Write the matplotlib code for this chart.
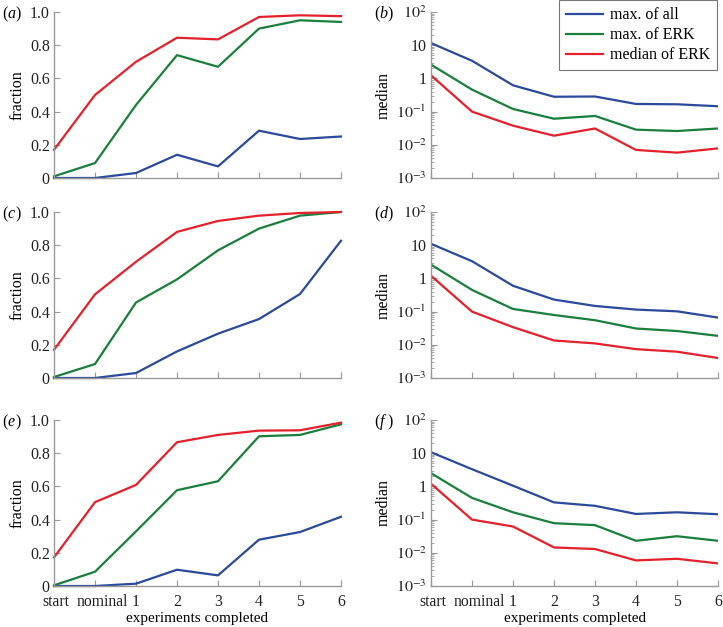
import matplotlib.pyplot as plt
import matplotlib.transforms as mtransforms
from matplotlib.ticker import FixedLocator, FixedFormatter, LogLocator, NullFormatter

# ---- data ----
x_labels = ["start", "nominal", "1", "2", "3", "4", "5", "6"]
series_names = ["max. of all", "max. of ERK", "median of ERK"]

# fraction panels (a), (c), (e): [max all, max ERK, median ERK]
frac_a_all = [0.0, 0.0, 0.03, 0.14, 0.07, 0.285, 0.235, 0.25]
frac_a_erk = [0.01, 0.09, 0.44, 0.74, 0.67, 0.90, 0.95, 0.94]
frac_a_med = [0.17, 0.50, 0.70, 0.845, 0.835, 0.97, 0.98, 0.975]

frac_c_all = [0.0, 0.0, 0.03, 0.16, 0.267, 0.355, 0.506, 0.827]
frac_c_erk = [0.006, 0.084, 0.455, 0.594, 0.769, 0.90, 0.978, 1.0]
frac_c_med = [0.17, 0.504, 0.70, 0.88, 0.946, 0.978, 0.994, 1.0]

frac_e_all = [0.0, 0.0, 0.014, 0.098, 0.064, 0.279, 0.325, 0.417]
frac_e_erk = [0.004, 0.086, 0.329, 0.577, 0.631, 0.902, 0.91, 0.974]
frac_e_med = [0.172, 0.505, 0.609, 0.866, 0.91, 0.936, 0.938, 0.984]

# median panels (b), (d), (f)
med_b_all = [11.6, 3.4, 0.62, 0.28, 0.285, 0.17, 0.166, 0.145]
med_b_erk = [2.6, 0.46, 0.12, 0.061, 0.074, 0.0286, 0.026, 0.031]
med_b_med = [1.24, 0.10, 0.0377, 0.0188, 0.031, 0.007, 0.0058, 0.0078]

med_d_all = [11.0, 3.3, 0.6, 0.23, 0.148, 0.115, 0.102, 0.066]
med_d_erk = [2.6, 0.45, 0.12, 0.079, 0.055, 0.031, 0.026, 0.0186]
med_d_med = [1.2, 0.10, 0.034, 0.0135, 0.011, 0.0074, 0.0062, 0.004]

med_f_all = [10.7, 3.3, 1.05, 0.33, 0.26, 0.148, 0.166, 0.145]
med_f_erk = [2.5, 0.45, 0.166, 0.078, 0.068, 0.023, 0.0316, 0.023]
med_f_med = [1.2, 0.10, 0.062, 0.0145, 0.013, 0.0059, 0.0066, 0.0048]

colors = ["#2b4a9b", "#1a7f3c", "#e3202b"]

plt.rcParams["font.family"] = ["Liberation Serif", "DejaVu Serif"]
plt.rcParams["mathtext.fontset"] = "stix"
FS = 11

W, H = 723, 627
fig = plt.figure(figsize=(W / 100, H / 100), dpi=100)


def make_ax(x0, x1, y_top, y_bot):
    return fig.add_axes([x0 / W, 1 - y_bot / H, (x1 - x0) / W, (y_bot - y_top) / H])


rows = [(12, 178), (212, 378), (420, 586)]
left_x = (54, 341)
right_x = (431, 718)

frac_sets = [(frac_a_all, frac_a_erk, frac_a_med),
             (frac_c_all, frac_c_erk, frac_c_med),
             (frac_e_all, frac_e_erk, frac_e_med)]
med_sets = [(med_b_all, med_b_erk, med_b_med),
            (med_d_all, med_d_erk, med_d_med),
            (med_f_all, med_f_erk, med_f_med)]
left_tags = ["a", "c", "e"]
right_tags = ["b", "d", "f"]

xs = list(range(len(x_labels)))
spine_col = "#999999"


def style(ax, bottom):
    for s in ["top", "right"]:
        ax.spines[s].set_visible(False)
    for s in ["left", "bottom"]:
        ax.spines[s].set_color(spine_col)
        ax.spines[s].set_linewidth(1.0)
    ax.set_xlim(0, len(x_labels) - 1)
    ax.set_xticks(xs)
    ax.tick_params(axis="both", which="both", direction="in", colors=spine_col,
                   labelcolor="#222222")
    ax.tick_params(axis="y", labelsize=FS + 0.5, pad=3)
    ax.tick_params(axis="x", labelsize=FS + 0.3, pad=6)
    ax.tick_params(axis="both", which="major", length=4, width=0.8)
    ax.tick_params(axis="y", which="minor", length=2, width=0.6)
    if bottom:
        ax.set_xticklabels(x_labels)
        ax.set_xlabel("experiments completed", fontsize=FS, labelpad=1.5)
        # nudge "start" / "nominal" apart like the original
        shifts = {0: 2, 1: 7}
        for k, tk in enumerate(ax.xaxis.get_major_ticks()):
            if k in shifts:
                lab = tk.label1
                lab.set_transform(lab.get_transform() + mtransforms.ScaledTranslation(
                    shifts[k] / 100, 0, fig.dpi_scale_trans))
    else:
        ax.set_xticklabels([])


def tag(x, y, letter):
    fig.text(x / W, 1 - y / H, "(", fontsize=FS + 0.5, va="center")
    fig.text((x + 5.5) / W, 1 - y / H, letter, fontsize=FS + 0.5, va="center", style="italic")
    fig.text((x + 13) / W, 1 - y / H, ")", fontsize=FS + 0.5, va="center")


for i, (y0, y1) in enumerate(rows):
    bottom = i == 2
    # fraction panel
    ax = make_ax(left_x[0], left_x[1], y0, y1)
    for vals, c in zip(frac_sets[i], colors):
        ax.plot(xs, vals, color=c, lw=1.6, clip_on=False)
    ax.set_ylim(0, 1.0)
    ax.set_yticks([0, 0.2, 0.4, 0.6, 0.8, 1.0])
    ax.set_yticklabels(["0", "0.2", "0.4", "0.6", "0.8", "1.0"])
    ax.set_ylabel("fraction", fontsize=FS + 0.5, labelpad=3)
    style(ax, bottom)
    tag(2, y0 + 2, left_tags[i])

    # median panel
    ax2 = make_ax(right_x[0], right_x[1], y0, y1)
    lines = []
    for vals, c, nm in zip(med_sets[i], colors, series_names):
        ln, = ax2.plot(xs, vals, color=c, lw=1.6, label=nm)
        lines.append(ln)
    ax2.set_yscale("log")
    ax2.set_ylim(1e-3, 1e2)
    ax2.yaxis.set_major_locator(FixedLocator([1e-3, 1e-2, 1e-1, 1, 10, 100]))
    ax2.yaxis.set_major_formatter(FixedFormatter(
        [r"$10^{-3}$", r"$10^{-2}$", r"$10^{-1}$", "1", "10", r"$10^{2}$"]))
    ax2.yaxis.set_minor_locator(LogLocator(base=10, subs=range(2, 10)))
    ax2.yaxis.set_minor_formatter(NullFormatter())
    ax2.set_ylabel("median", fontsize=FS + 0.5, labelpad=3)
    style(ax2, bottom)
    tag(374, y0 + 2, right_tags[i])

    if i == 0:
        leg = fig.legend(handles=lines, loc="upper right",
                         bbox_to_anchor=(717 / W, 1.0), fontsize=FS + 0.5,
                         frameon=True, fancybox=False, handlelength=2.3,
                         borderpad=0.45, labelspacing=0.25, handletextpad=0.4,
                         borderaxespad=0)
        leg.get_frame().set_edgecolor("#555555")
        leg.get_frame().set_linewidth(0.8)

fig.savefig("out.png", dpi=100)
plt.close(fig)
